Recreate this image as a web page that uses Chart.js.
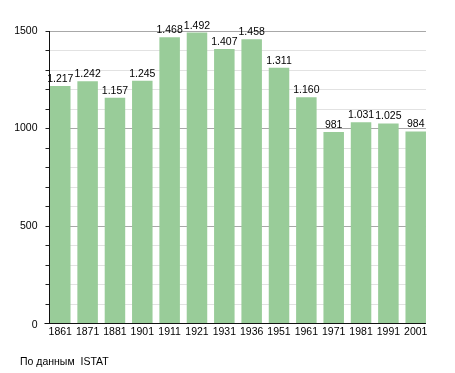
<!DOCTYPE html>
<html><head><meta charset="utf-8">
<script src="https://cdn.jsdelivr.net/npm/chart.js@4"></script>
<style>
html,body{margin:0;padding:0;background:#fff;}
#wrap{position:relative;width:455px;height:373px;}
#note{position:absolute;left:20px;top:355px;font:10.5px "Liberation Sans",Arial,sans-serif;color:#000;}
</style></head>
<body><div id="wrap"><canvas id="c" width="455" height="373"></canvas><div id="note">По данным&nbsp; ISTAT</div></div>
<script>
const years = ['1861','1871','1881','1901','1911','1921','1931','1936','1951','1961','1971','1981','1991','2001'];
const population = [1217,1242,1157,1245,1468,1492,1407,1458,1311,1160,981,1031,1025,984];
const yTickLabels = ['0','500','1000','1500'];

const FONT = '"Liberation Sans", Arial, sans-serif';
function fmt(v){ return v >= 1000 ? Math.floor(v/1000) + '.' + String(v%1000).padStart(3,'0') : String(v); }

const gridPlugin = {
  id: 'grid',
  beforeDatasetsDraw(chart){
    const ctx = chart.ctx, y = chart.scales.y;
    const meta = chart.getDatasetMeta(0);
    const b0 = meta.data[0], bn = meta.data[meta.data.length-1];
    const left = Math.round(b0.x - b0.width/2) - 0.5;
    const right = bn.x + bn.width/2;
    ctx.save();
    for (let v = 100; v <= 1500; v += 100) {
      const py = Math.round(y.getPixelForValue(v)) + 0.5;
      ctx.strokeStyle = (v % 500 === 0) ? '#a8a8a8' : '#e2e2e2';
      ctx.lineWidth = 1;
      ctx.beginPath(); ctx.moveTo(left, py); ctx.lineTo(right, py); ctx.stroke();
      ctx.strokeStyle = '#222';
      ctx.beginPath(); ctx.moveTo(left - 4, py); ctx.lineTo(left, py); ctx.stroke();
    }
    ctx.restore();
  },
  afterDatasetsDraw(chart){
    const ctx = chart.ctx, y = chart.scales.y, x = chart.scales.x;
    const meta = chart.getDatasetMeta(0);
    const b0 = meta.data[0], bn = meta.data[meta.data.length-1];
    const left = Math.round(b0.x - b0.width/2) - 0.5;
    const right = bn.x + bn.width/2;
    const top = y.getPixelForValue(1500), bottom = Math.round(y.getPixelForValue(0)) + 0.5;
    ctx.save();
    ctx.strokeStyle = '#111'; ctx.lineWidth = 1;
    ctx.beginPath(); ctx.moveTo(left, top); ctx.lineTo(left, bottom); ctx.stroke();
    ctx.beginPath(); ctx.moveTo(left - 5, bottom); ctx.lineTo(right, bottom); ctx.stroke();
    // value labels
    ctx.fillStyle = '#000'; ctx.font = '10.5px ' + FONT; ctx.textAlign = 'center'; ctx.textBaseline = 'alphabetic';
    meta.data.forEach((bar, i) => {
      ctx.fillText(fmt(population[i]), bar.x, bar.y - 4);
    });
    // x labels
    ctx.textBaseline = 'middle';
    years.forEach((yr, i) => {
      ctx.fillText(yr, x.getPixelForValue(i), bottom + 8.5);
    });
    // y labels
    ctx.textAlign = 'right';
    yTickLabels.forEach(t => {
      const v = Number(t);
      ctx.fillText(t, left - 12, y.getPixelForValue(v) + (v === 0 ? 2 : 0));
    });
    ctx.restore();
  }
};

new Chart(document.getElementById('c'), {
  type: 'bar',
  data: { labels: years, datasets: [{ data: population, backgroundColor: '#99cc99', borderWidth: 0,
    barPercentage: 0.75, categoryPercentage: 1.0 }] },
  options: {
    responsive: false, animation: false,
    layout: { padding: { left: 46.6, right: 25.6, top: 31, bottom: 50 } },
    plugins: { legend: { display: false }, tooltip: { enabled: false } },
    scales: {
      x: { offset: true, display: true, afterFit(s){ s.height = 0; },
           grid: { display: false }, border: { display: false }, ticks: { display: false } },
      y: { display: true, min: 0, max: 1500, position: 'left',
           afterFit(s){ s.width = 0; },
           grid: { display: false }, border: { display: false },
           ticks: { display: false, stepSize: 100 } }
    }
  },
  plugins: [gridPlugin]
});
</script></body></html>
